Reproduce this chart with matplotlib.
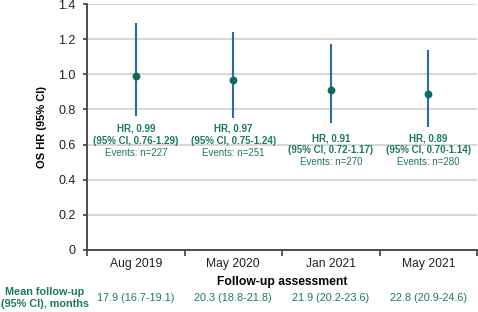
import numpy as np
import matplotlib.pyplot as plt

plt.rcParams['font.family'] = ['Liberation Sans', 'DejaVu Sans']

## ============ Data ============ ##
periods = ['Aug 2019', 'May 2020', 'Jan 2021', 'May 2021']
hr = [0.99, 0.97, 0.91, 0.89]
ci_low = [0.76, 0.75, 0.72, 0.70]
ci_high = [1.29, 1.24, 1.17, 1.14]
events = [227, 251, 270, 280]
label_y = [0.69, 0.69, 0.635, 0.635]
followup = ['17.9 (16.7-19.1)', '20.3 (18.8-21.8)', '21.9 (20.2-23.6)', '22.8 (20.9-24.6)']

green = '#1b7a60'
dot = '#0e6b55'
blue = '#2c6aa5'

fig = plt.figure(figsize=(4.78, 3.12), dpi=100)
ax = fig.add_axes([0.182, 0.199, 0.816, 0.788])

x = np.arange(len(periods))

# grid
ax.set_ylim(0, 1.4)
ax.set_yticks(np.arange(0, 1.41, 0.2))
ax.set_yticklabels(['0', '0.2', '0.4', '0.6', '0.8', '1.0', '1.2', '1.4'], fontsize=9, color='#222222')
ax.yaxis.grid(True, color='#d4d4d4', linewidth=1.3)
ax.set_axisbelow(True)

# error bars + points
ax.vlines(x, ci_low, ci_high, color=blue, linewidth=1.5, zorder=3)
ax.plot(x, hr, 'o', color=dot, markersize=4.6, zorder=4)

for i in range(len(x)):
    ax.text(x[i], label_y[i], f'HR, {hr[i]:.2f}', ha='center', va='center',
            fontsize=7, fontweight='bold', color=green)
    ax.text(x[i], label_y[i] - 0.068, f'(95% CI, {ci_low[i]:.2f}-{ci_high[i]:.2f})',
            ha='center', va='center', fontsize=7, fontweight='bold', color=green)
    ax.text(x[i], label_y[i] - 0.136, f'Events: n={events[i]}', ha='center', va='center',
            fontsize=7, color=green)

ax.set_xlim(-0.5, len(x) - 0.5)
ax.set_xticks(x)
ax.set_xticklabels(periods, fontsize=8.7, color='#222222')
ax.tick_params(axis='x', which='major', length=0, pad=6)
ax.set_xticks(np.arange(-0.5, len(x)), minor=True)
ax.tick_params(axis='x', which='minor', length=4, color='#404040', width=1.2)
ax.tick_params(axis='y', length=3, color='#404040', width=1.2, pad=5)

for s in ['top', 'right']:
    ax.spines[s].set_visible(False)
for s in ['left', 'bottom']:
    ax.spines[s].set_color('#404040')
    ax.spines[s].set_linewidth(1.3)

ax.set_xlabel('Follow-up assessment', fontsize=8.7, fontweight='bold', labelpad=4)
ax.set_ylabel('OS HR (95% CI)', fontsize=8, fontweight='bold', labelpad=8)

# follow-up row
fig.text(45 / 478, 1 - 298 / 312, 'Mean follow-up\n(95% CI), months', ha='center', va='center',
         fontsize=7.8, fontweight='bold', color=green, linespacing=1.25)
for i in range(len(x)):
    xd = ax.transData.transform((x[i], 0))[0]
    fig.text(xd / fig.bbox.width, 1 - 298 / 312, followup[i], ha='center', va='center',
             fontsize=7.8, color=green)

fig.savefig('out.png', dpi=100)
